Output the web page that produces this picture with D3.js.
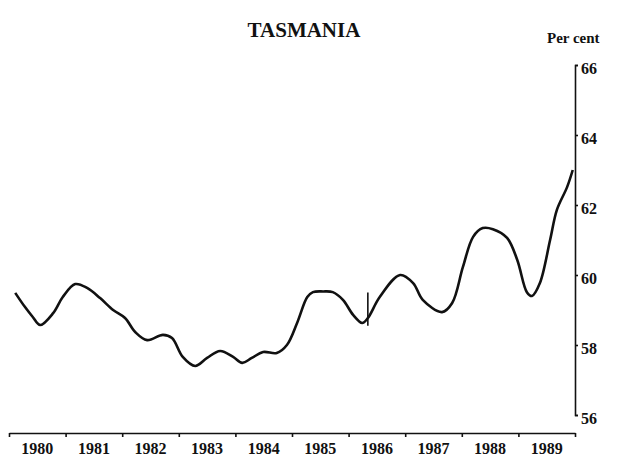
<!DOCTYPE html>
<html>
<head>
<meta charset="utf-8">
<script src="https://cdn.jsdelivr.net/npm/d3@7"></script>
<style>
  body { margin: 0; background: #fff; }
  text { font-family: "Liberation Serif", "Times New Roman", serif; font-weight: bold; fill: #111; }
</style>
</head>
<body>
<div id="chart"></div>
<script>
// chart data
var years = [1980, 1981, 1982, 1983, 1984, 1985, 1986, 1987, 1988, 1989];
var yTicks = [56, 58, 60, 62, 64, 66];
var breakYear = 1986.34;

var times = [1980.11, 1980.28, 1980.42, 1980.55, 1980.78, 1980.95, 1981.17, 1981.38, 1981.61, 1981.84,
  1982.05, 1982.23, 1982.44, 1982.72, 1982.88, 1983.07, 1983.29, 1983.50, 1983.73, 1983.96,
  1984.12, 1984.29, 1984.49, 1984.73, 1984.91, 1985.09, 1985.27, 1985.37, 1985.55, 1985.72,
  1985.90, 1986.08, 1986.24, 1986.34, 1986.55, 1986.91, 1987.14, 1987.31, 1987.65, 1987.83,
  1988.02, 1988.20, 1988.37, 1988.55, 1988.80, 1988.98, 1989.15, 1989.24, 1989.38, 1989.56,
  1989.68, 1989.86, 1989.96];
var values = [59.49, 59.09, 58.80, 58.57, 58.91, 59.37, 59.74, 59.63, 59.34, 59.00,
  58.77, 58.37, 58.14, 58.29, 58.20, 57.66, 57.40, 57.63, 57.83, 57.66,
  57.49, 57.63, 57.80, 57.77, 58.00, 58.63, 59.37, 59.51, 59.53, 59.51,
  59.29, 58.86, 58.63, 58.77, 59.37, 60.00, 59.77, 59.29, 58.94, 59.20,
  60.23, 61.09, 61.34, 61.31, 61.06, 60.43, 59.51, 59.40, 59.77, 61.00,
  61.86, 62.51, 63.00];

var svgWidth = 626;
var svgHeight = 459;

var svg = d3.select("#chart")
  .append("svg")
  .attr("width", svgWidth)
  .attr("height", svgHeight);

// scales
var x = d3.scaleLinear().domain([1980, 1990]).range([9, 575]);
var y = d3.scaleLinear().domain([56, 66]).range([415, 65]);

// title
svg.append("text")
  .attr("x", 304)
  .attr("y", 37)
  .attr("text-anchor", "middle")
  .attr("font-size", "21px")
  .text("TASMANIA");

svg.append("text")
  .attr("x", 547)
  .attr("y", 43)
  .attr("font-size", "15px")
  .text("Per cent");

// right y axis
var yAxis = svg.append("g")
  .attr("transform", "translate(" + x(1990) + ",0)")
  .call(d3.axisRight(y).tickValues(yTicks).tickSize(3).tickSizeOuter(3).tickPadding(3));
yAxis.selectAll("text").attr("font-size", "16px").attr("fill", "#111").attr("dy", "0.5em");
yAxis.selectAll("path, line").attr("stroke", "#111").attr("stroke-width", 1.6);

// bottom x axis
var xAxis = svg.append("g")
  .attr("transform", "translate(0,433)")
  .call(d3.axisBottom(x).tickValues(d3.range(1980, 1991)).tickFormat("").tickSize(4).tickSizeOuter(0));
xAxis.selectAll("path, line").attr("stroke", "#111").attr("stroke-width", 1.6);

svg.append("g").selectAll("text")
  .data(years)
  .enter()
  .append("text")
  .attr("x", d => x(d + 0.5))
  .attr("y", 454)
  .attr("text-anchor", "middle")
  .attr("font-size", "16px")
  .text(d => d);

// the series
var data = times.map((t, i) => ({t: t, v: values[i]}));

var line = d3.line()
  .x(d => x(d.t))
  .y(d => y(d.v))
  .curve(d3.curveCatmullRom.alpha(0.5));

svg.append("path")
  .datum(data)
  .attr("d", line)
  .attr("fill", "none")
  .attr("stroke", "#111")
  .attr("stroke-width", 2.6)
  .attr("stroke-linejoin", "round");

// break in series marker
svg.append("line")
  .attr("x1", x(breakYear))
  .attr("x2", x(breakYear))
  .attr("y1", y(59.5))
  .attr("y2", y(58.55))
  .attr("stroke", "#111")
  .attr("stroke-width", 1.6);
</script>
</body>
</html>
